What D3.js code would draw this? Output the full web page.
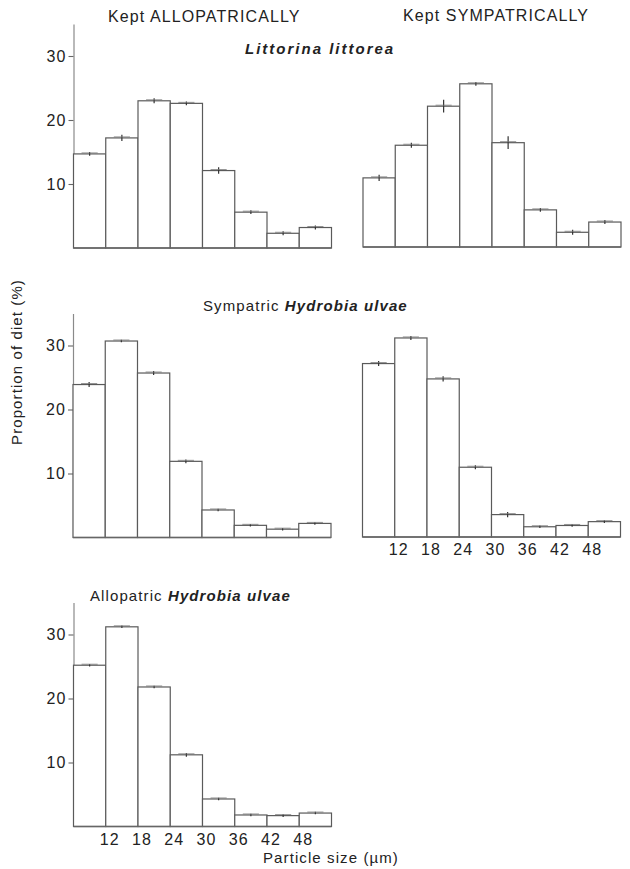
<!DOCTYPE html>
<html>
<head>
<meta charset="utf-8">
<script src="https://cdn.jsdelivr.net/npm/d3@7"></script>
<style>
  body { margin: 0; background: #fff; }
  svg text { font-family: "Liberation Sans", Arial, sans-serif; fill: #222; letter-spacing: 1.1px; }
</style>
</head>
<body>
<script>
'use strict';

// particle size classes (lower edge of each 6 um bin)
const binStarts = [6, 12, 18, 24, 30, 36, 42, 48];
const tickLabels = [12, 18, 24, 30, 36, 42, 48];
const yTicks = [10, 20, 30];

// proportion of diet (%) per size class, with small SE
const littoreaAllo = [14.7, 17.2, 23.0, 22.6, 12.1, 5.6, 2.3, 3.2];
const littoreaAlloErr = [0.3, 0.5, 0.4, 0.3, 0.5, 0.3, 0.3, 0.3];
const littoreaSym = [10.8, 15.9, 22.0, 25.5, 16.3, 5.8, 2.3, 3.9];
const littoreaSymErr = [0.5, 0.4, 1.0, 0.3, 1.0, 0.3, 0.4, 0.3];
const hydrobiaSymAllo = [23.9, 30.7, 25.7, 11.9, 4.3, 1.9, 1.3, 2.2];
const hydrobiaSymAlloErr = [0.4, 0.2, 0.3, 0.3, 0.2, 0.2, 0.2, 0.2];
const hydrobiaSymSym = [27.1, 31.1, 24.7, 10.9, 3.5, 1.6, 1.8, 2.4];
const hydrobiaSymSymErr = [0.4, 0.3, 0.4, 0.3, 0.4, 0.2, 0.2, 0.2];
const hydrobiaAllo = [25.2, 31.2, 21.8, 11.2, 4.3, 1.8, 1.7, 2.1];
const hydrobiaAlloErr = [0.2, 0.2, 0.2, 0.3, 0.2, 0.2, 0.2, 0.2];

(function () {

  let svg = "";

  window.onload = function () {
    svg = d3.select('body')
      .append('svg')
      .attr('width', 630)
      .attr('height', 869);

    // panel layout: left column / right column, three rows
    let panels = [
      { values: littoreaAllo, errs: littoreaAlloErr, left: 73.5, base: 248, yAxis: true, xLabels: false },
      { values: littoreaSym, errs: littoreaSymErr, left: 363, base: 247, yAxis: false, xLabels: false },
      { values: hydrobiaSymAllo, errs: hydrobiaSymAlloErr, left: 73, base: 537.5, yAxis: true, xLabels: false },
      { values: hydrobiaSymSym, errs: hydrobiaSymSymErr, left: 362.5, base: 537, yAxis: false, xLabels: true },
      { values: hydrobiaAllo, errs: hydrobiaAlloErr, left: 73.5, base: 826.5, yAxis: true, xLabels: true }
    ];

    panels.forEach(drawPanel);
    makeLabels();
  }

  // one histogram panel
  function drawPanel(p) {
    let xScale = d3.scaleLinear()
      .domain([6, 54])
      .range([p.left, p.left + 258]);
    let yScale = d3.scaleLinear()
      .domain([0, 35])
      .range([p.base, p.base - 224]);

    let g = svg.append('g');

    if (p.yAxis) {
      let yAxis = d3.axisLeft(yScale)
        .tickValues(yTicks)
        .tickSize(5)
        .tickSizeOuter(0)
        .tickPadding(2);
      let ax = g.append('g')
        .attr('transform', 'translate(' + p.left + ', 0)')
        .call(yAxis);
      ax.select('.domain').attr('stroke', '#8a8a8a').attr('stroke-width', 1.2);
      ax.selectAll('.tick line').attr('stroke', '#666').attr('stroke-width', 1.1);
      ax.selectAll('.tick text')
        .style('font-size', '16px')
        .attr('fill', '#222')
        .attr('font-family', null);
    }

    let rows = binStarts.map((b, i) => ({ b: b, v: p.values[i], e: p.errs[i] }));

    // bars
    g.selectAll('.bar')
      .data(rows)
      .enter()
      .append('rect')
      .attr('x', d => xScale(d.b))
      .attr('width', d => xScale(d.b + 6) - xScale(d.b))
      .attr('y', d => yScale(d.v))
      .attr('height', d => yScale(0) - yScale(d.v))
      .attr('fill', '#fff')
      .attr('stroke', '#5a5a5a')
      .attr('stroke-width', 1.2);

    // baseline
    g.append('line')
      .attr('x1', xScale(6))
      .attr('x2', xScale(54))
      .attr('y1', yScale(0))
      .attr('y2', yScale(0))
      .attr('stroke', '#666')
      .attr('stroke-width', 1.3);

    // small SE marks at bar tops
    g.selectAll('.err')
      .data(rows)
      .enter()
      .append('line')
      .attr('x1', d => xScale(d.b + 3))
      .attr('x2', d => xScale(d.b + 3))
      .attr('y1', d => yScale(d.v + d.e))
      .attr('y2', d => yScale(d.v - d.e))
      .attr('stroke', '#333')
      .attr('stroke-width', 1.2);
    g.selectAll('.errcap')
      .data(rows)
      .enter()
      .append('line')
      .attr('x1', d => xScale(d.b + 1.5))
      .attr('x2', d => xScale(d.b + 4.5))
      .attr('y1', d => yScale(d.v) - 1)
      .attr('y2', d => yScale(d.v) - 1)
      .attr('stroke', '#777')
      .attr('stroke-width', 0.8);

    if (p.xLabels) {
      g.selectAll('.xlab')
        .data(tickLabels)
        .enter()
        .append('text')
        .attr('x', d => xScale(d) + 4)
        .attr('y', p.base + 18)
        .attr('text-anchor', 'middle')
        .style('font-size', '16px')
        .text(d => d);
    }
  }

  // titles and axis labels
  function makeLabels() {
    svg.append('text')
      .attr('x', 108)
      .attr('y', 22)
      .style('font-size', '16px')
      .text('Kept ALLOPATRICALLY');

    svg.append('text')
      .attr('x', 403)
      .attr('y', 21)
      .style('font-size', '16px')
      .text('Kept SYMPATRICALLY');

    svg.append('text')
      .attr('x', 245)
      .attr('y', 54)
      .style('font-size', '15px')
      .style('font-style', 'italic')
      .style('font-weight', 'bold')
      .style('letter-spacing', '2px')
      .text('Littorina littorea');

    let sym = svg.append('text')
      .attr('x', 203)
      .attr('y', 311)
      .style('font-size', '15px');
    sym.append('tspan').text('Sympatric ');
    sym.append('tspan')
      .style('font-style', 'italic')
      .style('font-weight', 'bold')
      .text('Hydrobia ulvae');

    let allo = svg.append('text')
      .attr('x', 90)
      .attr('y', 601)
      .style('font-size', '15px');
    allo.append('tspan').text('Allopatric ');
    allo.append('tspan')
      .style('font-style', 'italic')
      .style('font-weight', 'bold')
      .text('Hydrobia ulvae');

    svg.append('text')
      .attr('x', 263)
      .attr('y', 863)
      .style('font-size', '15px')
      .text('Particle size (\u00b5m)');

    svg.append('text')
      .attr('transform', 'translate(22, 362)rotate(-90)')
      .attr('text-anchor', 'middle')
      .style('font-size', '15px')
      .text('Proportion of diet (%)');
  }

})();
</script>
</body>
</html>
